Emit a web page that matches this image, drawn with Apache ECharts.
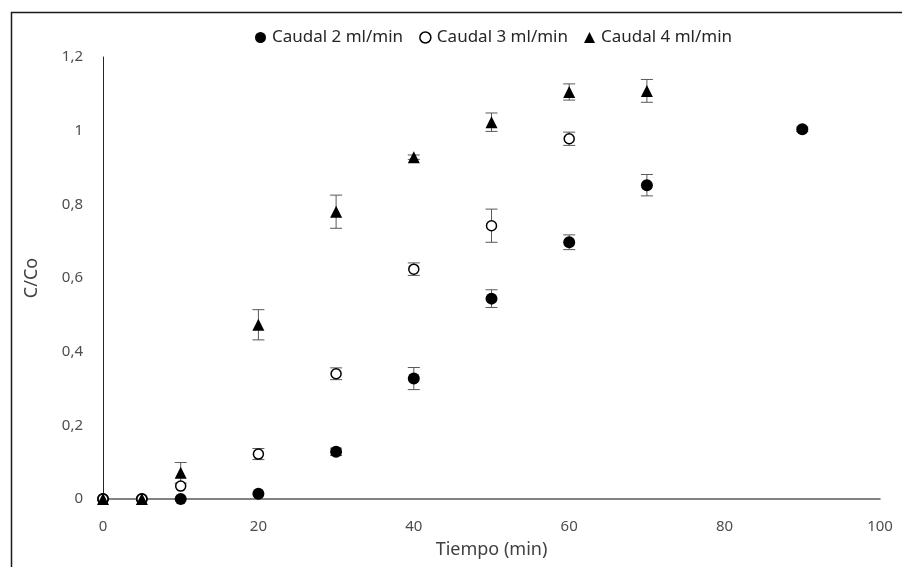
<!DOCTYPE html>
<html>
<head>
<meta charset="utf-8">
<script src="https://cdn.jsdelivr.net/npm/echarts@6/dist/echarts.min.js"></script>
<style>
html,body{margin:0;padding:0;background:#fff;}
#chart{width:902px;height:567px;}
</style>
</head>
<body>
<div id="chart"></div>
<script>
//datos
let tiempo2=[0,5,10,20,30,40,50,60,70,90];
let caudal2=[0,0,0,0.014,0.128,0.327,0.544,0.697,0.852,1.004];
let error2=[0,0,0,0,0.01,0.03,0.024,0.02,0.029,0.006];

let tiempo3=[0,5,10,20,30,40,50,60];
let caudal3=[0,0,0.035,0.122,0.340,0.624,0.742,0.978];
let error3=[0,0,0,0.015,0.016,0.017,0.045,0.018];

let tiempo4=[0,5,10,20,30,40,50,60,70];
let caudal4=[0,0,0.071,0.473,0.780,0.928,1.023,1.105,1.108];
let error4=[0,0,0.028,0.041,0.045,0.006,0.025,0.022,0.031];

let xTicks={min:0,max:100,interval:20};
let yTicks={min:0,max:1.2,interval:0.2};

let font="'Noto Sans', sans-serif";

function pares(xs,ys){
	return xs.map(function(x,i){return [x,ys[i]];});
}
function barras(xs,ys,es){
	return xs.map(function(x,i){return [x,ys[i],es[i]];});
}
//barras de error con tapas
function dibujarError(params,api){
	let x=api.value(0),y=api.value(1),e=api.value(2);
	if(!e){return;}
	let top=api.coord([x,y+e]);
	let bot=api.coord([x,y-e]);
	let w=6;
	let st={stroke:'#595959',lineWidth:1};
	return {type:'group',children:[
		{type:'line',shape:{x1:top[0],y1:top[1],x2:bot[0],y2:bot[1]},style:st},
		{type:'line',shape:{x1:top[0]-w,y1:top[1],x2:top[0]+w,y2:top[1]},style:st},
		{type:'line',shape:{x1:bot[0]-w,y1:bot[1],x2:bot[0]+w,y2:bot[1]},style:st}
	]};
}

let chart=echarts.init(document.getElementById('chart'));
let option={
	backgroundColor:'#fff',
	animation:false,
	graphic:[{
		type:'rect',left:9,top:10,
		shape:{width:900,height:600},
		style:{fill:'none',stroke:'#1a1a1a',lineWidth:1.5},
		silent:true
	}],
	legend:{
		top:24,left:250,
		itemWidth:11,itemHeight:11,itemGap:16,
		textStyle:{fontFamily:font,fontSize:17,color:'#262626',padding:[0,0,0,1]},
		data:[
			{name:'Caudal 2 ml/min',icon:'circle'},
			{name:'Caudal 3 ml/min',icon:'circle',itemStyle:{color:'#fff',borderColor:'#000',borderWidth:1.5}},
			{name:'Caudal 4 ml/min',icon:'triangle'}
		]
	},
	grid:{left:103,right:22,top:57,bottom:68},
	xAxis:{
		type:'value',min:xTicks.min,max:xTicks.max,interval:xTicks.interval,
		name:'Tiempo (min)',nameLocation:'middle',nameGap:42,
		nameTextStyle:{fontFamily:font,fontSize:18,color:'#404040'},
		axisLine:{lineStyle:{color:'#595959',width:1.5}},
		axisTick:{show:false},
		splitLine:{show:false},
		axisLabel:{fontFamily:font,fontSize:15,color:'#4d4d4d',margin:20}
	},
	yAxis:{
		type:'value',min:yTicks.min,max:yTicks.max,interval:yTicks.interval,
		name:'C/Co',nameLocation:'middle',nameGap:62,
		nameTextStyle:{fontFamily:font,fontSize:18,color:'#404040'},
		axisLine:{show:true,lineStyle:{color:'#262626',width:1}},
		axisTick:{show:false},
		splitLine:{show:false},
		axisLabel:{fontFamily:font,fontSize:15,color:'#4d4d4d',margin:20,
			formatter:function(v){return String(Math.round(v*10)/10).replace('.',',');}}
	},
	series:[
		{type:'custom',renderItem:dibujarError,data:barras(tiempo2,caudal2,error2),z:1,silent:true},
		{type:'custom',renderItem:dibujarError,data:barras(tiempo3,caudal3,error3),z:1,silent:true},
		{type:'custom',renderItem:dibujarError,data:barras(tiempo4,caudal4,error4),z:1,silent:true},
		{name:'Caudal 2 ml/min',type:'scatter',symbol:'circle',symbolSize:12,z:3,
			itemStyle:{color:'#000',opacity:1},data:pares(tiempo2,caudal2)},
		{name:'Caudal 3 ml/min',type:'scatter',symbol:'circle',symbolSize:10,z:4,
			itemStyle:{color:'#fff',borderColor:'#000',borderWidth:1.5,opacity:1},data:pares(tiempo3,caudal3)},
		{name:'Caudal 4 ml/min',type:'scatter',symbol:'triangle',symbolSize:12,z:5,
			itemStyle:{color:'#000',opacity:1},data:pares(tiempo4,caudal4)}
	]
};
chart.setOption(option);
</script>
</body>
</html>
